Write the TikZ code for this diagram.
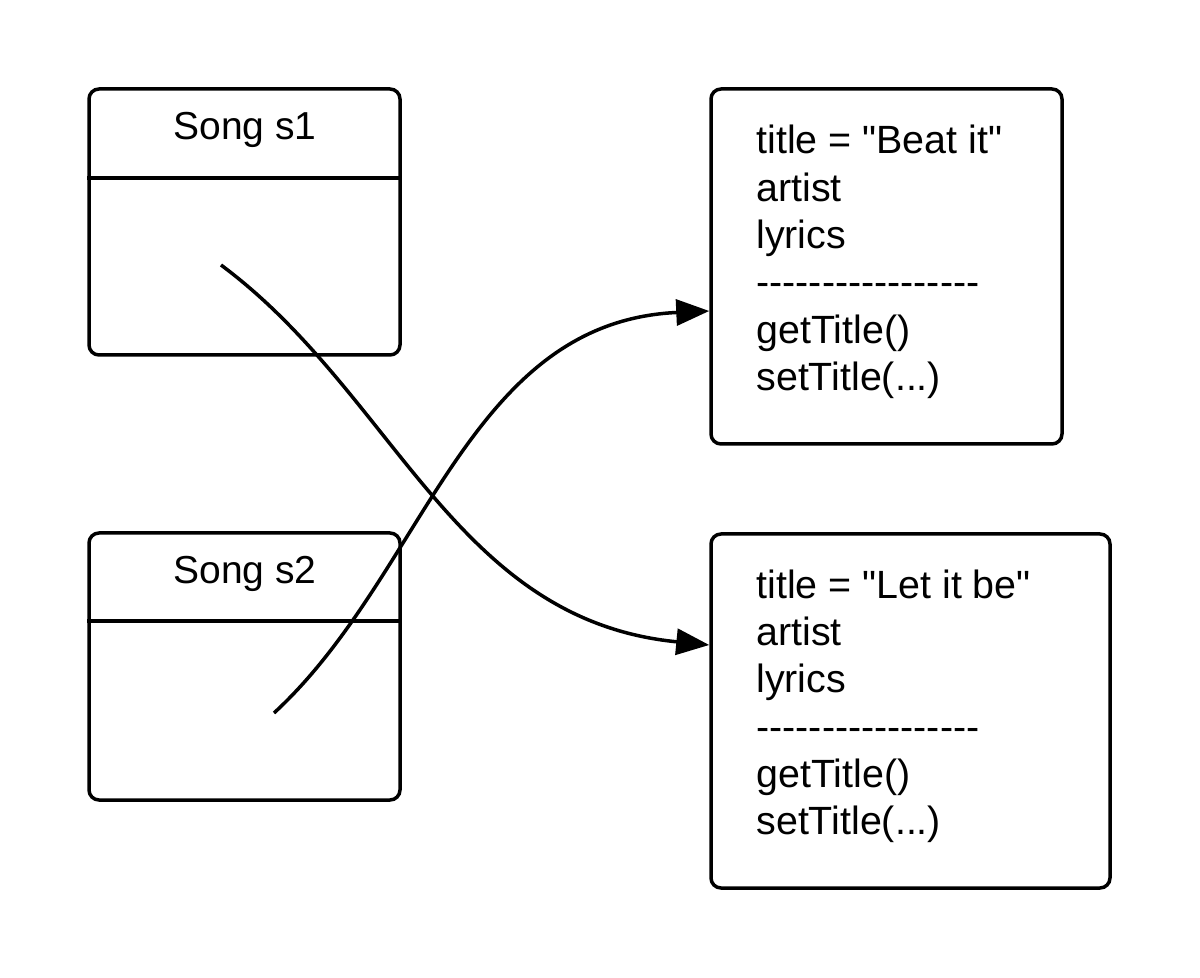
\documentclass[tikz,border=0pt]{standalone}
\usepackage{fontspec}
\setmainfont[Ligatures=TeXOff]{Liberation Sans}
\usetikzlibrary{arrows.meta}
\begin{document}
\begin{tikzpicture}[x=0.5pt,y=-0.5pt,
  objbox/.style={draw, line width=1.75pt, rounded corners=5pt, inner sep=0pt},
  divline/.style={line width=1.75pt},
  lbl/.style={inner sep=0pt, anchor=base west, font=\fontsize{19.7}{23.6}\selectfont},
  ttl/.style={inner sep=0pt, anchor=base, font=\fontsize{19.5}{23.6}\selectfont},
  refline/.style={line width=1.75pt, -{Triangle[length=16.5pt,width=13pt]}}]
\useasboundingbox (0,0) rectangle (1200,978);
% left objects
\node[objbox, minimum width=155.5pt, minimum height=133pt] (s1) at (244.5,222) {};
\node[objbox, minimum width=155.5pt, minimum height=133.5pt] (s2) at (244.5,666.5) {};
\draw[divline] (s1.west |- 0,178) -- (s1.east |- 0,178);
\draw[divline] (s2.west |- 0,621) -- (s2.east |- 0,621);
\node[ttl] (s1t) at (245,140) {Song s1};
\node[ttl] (s2t) at (245,583) {Song s2};
% right objects
\node[objbox, minimum width=175.5pt, minimum height=177.5pt] (b1) at (886.5,266.5) {};
\node[objbox, minimum width=199.5pt, minimum height=177pt] (b2) at (910.5,711) {};
\node[lbl] (b1a) at (756,154) {title = "Beat it"};
\node[lbl] (b1b) at (756,201.5) {artist};
\node[lbl] (b1c) at (756,248.8) {lyrics};
\node[lbl] (b1d) at (756,296) {-----------------};
\node[lbl] (b1e) at (756,343.4) {getTitle()};
\node[lbl] (b1f) at (756,390.7) {setTitle(...)};
\node[lbl] (b2a) at (756,598) {title = "Let it be"};
\node[lbl] (b2b) at (756,645.5) {artist};
\node[lbl] (b2c) at (756,692.8) {lyrics};
\node[lbl] (b2d) at (756,740) {-----------------};
\node[lbl] (b2e) at (756,787.4) {getTitle()};
\node[lbl] (b2f) at (756,834.7) {setTitle(...)};
% references
\coordinate (r1) at (221,265);
\coordinate (r2) at (274,713);
\coordinate (e1) at (b2.west |- 0,645);
\coordinate (e2) at (b1.west |- 0,311);
\draw[refline] (r1) .. controls (396,395) and (454,620) .. (e1);
\draw[refline] (r2) .. controls (425,574) and (467,322) .. (e2);
\end{tikzpicture}
\end{document}
